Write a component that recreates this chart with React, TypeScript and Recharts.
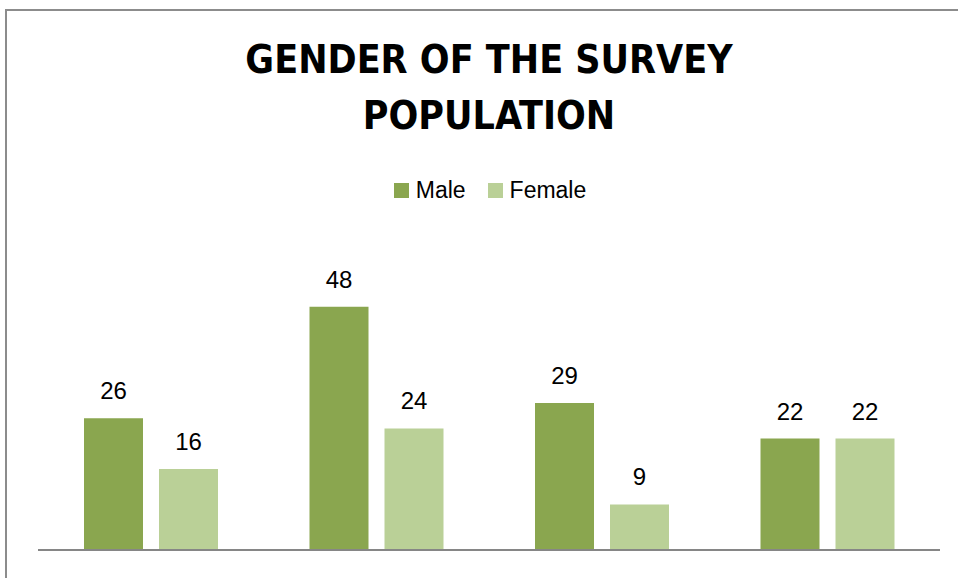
import { BarChart, Bar, XAxis, YAxis, Legend, LabelList } from "recharts";

const categories = ["Group 1", "Group 2", "Group 3", "Group 4"];
const maleValues = [26, 48, 29, 22];
const femaleValues = [16, 24, 9, 22];

const MALE_COLOR = "#8aa64f";
const FEMALE_COLOR = "#bad097";

const data = categories.map((name, i) => ({
  name,
  male: maleValues[i],
  female: femaleValues[i],
}));

const legendItems = [
  { label: "Male", color: MALE_COLOR },
  { label: "Female", color: FEMALE_COLOR },
];

const LegendContent = () => (
  <div style={{ display: "flex", justifyContent: "center", alignItems: "center", gap: 22 }}>
    {legendItems.map((item) => (
      <div key={item.label} style={{ display: "flex", alignItems: "center" }}>
        <span style={{ width: 15, height: 15, background: item.color, marginRight: 7, display: "inline-block" }} />
        <span style={{ fontSize: 23, lineHeight: "26px", color: "#000" }}>{item.label}</span>
      </div>
    ))}
  </div>
);

export default function App() {
  return (
    <div
      style={{
        position: "fixed",
        left: 0,
        top: 0,
        width: 958,
        height: 578,
        background: "#fff",
        fontFamily: "'Liberation Sans', Arial, sans-serif",
        overflow: "hidden",
      }}
    >
      <div
        style={{
          position: "absolute",
          left: 5,
          top: 9,
          width: 970,
          height: 600,
          border: "2px solid #8c8c8c",
          boxSizing: "border-box",
        }}
      />
      <div
        style={{
          position: "absolute",
          left: 0,
          top: 32,
          width: 978,
          textAlign: "center",
          fontFamily: "'Liberation Sans Narrow', 'DejaVu Sans Condensed', sans-serif",
          fontWeight: 700,
          fontSize: 39,
          lineHeight: "56px",
          color: "#000",
        }}
      >
        GENDER OF THE SURVEY
        <br />
        POPULATION
      </div>
      <div style={{ position: "absolute", left: 0, top: 0 }}>
        <BarChart
          width={958}
          height={578}
          data={data}
          margin={{ top: 246, right: 18, bottom: 27, left: 38 }}
          barCategoryGap={46}
          barGap={16}
        >
          <XAxis
            dataKey="name"
            tick={false}
            tickLine={false}
            height={1}
            axisLine={{ stroke: "#868686", strokeWidth: 2 }}
          />
          <YAxis hide domain={[0, 60]} />
          <Legend
            verticalAlign="middle"
            content={<LegendContent />}
            wrapperStyle={{ top: 177, left: 0, width: 980 }}
          />
          <Bar dataKey="male" name="Male" fill={MALE_COLOR} isAnimationActive={false}>
            <LabelList dataKey="male" position="top" offset={19} fill="#000" fontSize={24} />
          </Bar>
          <Bar dataKey="female" name="Female" fill={FEMALE_COLOR} isAnimationActive={false}>
            <LabelList dataKey="female" position="top" offset={19} fill="#000" fontSize={24} />
          </Bar>
        </BarChart>
      </div>
    </div>
  );
}
